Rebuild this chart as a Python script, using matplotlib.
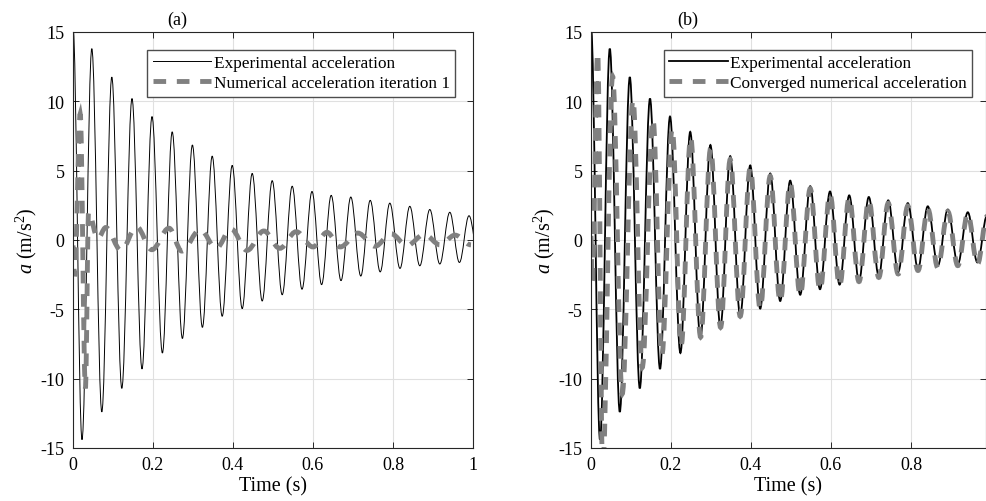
import matplotlib
matplotlib.use("Agg")
import matplotlib.pyplot as plt
from matplotlib.path import Path
from matplotlib.patches import PathPatch
from matplotlib.lines import Line2D
from matplotlib.ticker import FormatStrFormatter

plt.rcParams['font.family'] = 'Liberation Serif'
plt.rcParams['mathtext.fontset'] = 'custom'
plt.rcParams['mathtext.rm'] = 'Liberation Serif'
plt.rcParams['mathtext.it'] = 'Liberation Serif:italic'
plt.rcParams['axes.unicode_minus'] = False

# Peaks and troughs (time in s, acceleration in m/s^2)
exp_t = [0.0, 0.0225, 0.047, 0.072, 0.097, 0.122, 0.1475, 0.1725, 0.1975, 0.2235,
         0.248, 0.2735, 0.2985, 0.3235, 0.348, 0.373, 0.398, 0.423, 0.448, 0.473,
         0.498, 0.523, 0.548, 0.5725, 0.5975, 0.6215, 0.6455, 0.67, 0.6945, 0.7195,
         0.743, 0.768, 0.792, 0.8175, 0.842, 0.867, 0.892, 0.917, 0.942, 0.966,
         0.99, 1.015]
exp_a = [15.4, -14.4, 13.8, -12.4, 11.75, -10.7, 10.2, -9.3, 8.9, -8.15,
         7.8, -7.1, 6.85, -6.3, 6.05, -5.5, 5.38, -4.95, 4.8, -4.4,
         4.28, -3.95, 3.88, -3.55, 3.5, -3.22, 3.22, -2.93, 3.1, -2.6,
         2.86, -2.3, 2.66, -2.05, 2.43, -1.86, 2.2, -1.73, 2.0, -1.62,
         1.75, -1.5]

it1_t = [0.0, 0.004, 0.018, 0.031, 0.039, 0.062, 0.082, 0.12, 0.159, 0.197,
         0.24, 0.272, 0.318, 0.358, 0.395, 0.435, 0.477, 0.517, 0.558, 0.6,
         0.635, 0.668, 0.712, 0.755, 0.795, 0.835, 0.878, 0.918, 0.955, 0.995]
it1_a = [-0.4, -2.6, 9.1, -10.7, 2.0, 0.1, 0.9, -0.75, 0.95, -0.7,
         0.85, -0.8, 0.75, -0.6, 0.8, -0.75, 0.65, -0.6, 0.6, -0.5,
         0.55, -0.5, 0.5, -0.45, 0.45, -0.4, 0.4, -0.35, 0.35, -0.35]

conv_t = [0.0, 0.003, 0.0167, 0.029, 0.054, 0.078, 0.105, 0.128, 0.155, 0.177,
          0.203, 0.2255, 0.249, 0.274, 0.299, 0.324, 0.348, 0.373, 0.398, 0.423,
          0.448, 0.473, 0.498, 0.523, 0.548, 0.5725, 0.5975, 0.6215, 0.6455, 0.67,
          0.6945, 0.7195, 0.743, 0.768, 0.792, 0.8175, 0.842, 0.867, 0.892, 0.917,
          0.942, 0.966, 0.99]
conv_a = [0.3, -3.0, 13.5, -16.5, 11.8, -11.1, 10.1, -9.2, 8.7, -8.3,
          8.0, -7.6, 7.4, -7.0, 6.6, -6.3, 5.8, -5.5, 5.2, -4.95,
          4.6, -4.45, 4.1, -4.0, 3.7, -3.6, 3.3, -3.3, 3.05, -3.0,
          2.85, -2.7, 2.65, -2.45, 2.45, -2.2, 2.25, -2.0, 2.05, -1.85,
          1.9, -1.75, 1.7]

x_ticks_a = [0, 0.2, 0.4, 0.6, 0.8, 1]
x_ticks_b = [0, 0.2, 0.4, 0.6, 0.8]
y_ticks = [-15, -10, -5, 0, 5, 10, 15]

GRAY = '#808080'
K = 0.3634  # bezier handle fraction so each half wave looks like a cosine


def wave_path(t, a):
    # smooth curve through the extrema, drawn by matplotlib as cubic beziers
    verts = [(t[0], a[0])]
    codes = [Path.MOVETO]
    for i in range(1, len(t)):
        dt = t[i] - t[i - 1]
        verts += [(t[i - 1] + K * dt, a[i - 1]), (t[i] - K * dt, a[i]), (t[i], a[i])]
        codes += [Path.CURVE4] * 3
    return Path(verts, codes)


def style_axes(ax, xlim, xticks):
    ax.set_xlim(*xlim)
    ax.set_ylim(-15, 15)
    ax.set_xticks(xticks)
    ax.set_yticks(y_ticks)
    ax.xaxis.set_major_formatter(FormatStrFormatter('%g'))
    ax.yaxis.set_major_formatter(FormatStrFormatter('%g'))
    ax.grid(True, color='0.88', lw=0.8)
    ax.set_axisbelow(True)
    ax.tick_params(direction='in', length=4, width=0.7, top=True, right=True,
                   labelsize=13, pad=6, colors='0.15', labelcolor='k')
    for s in ax.spines.values():
        s.set_color('0.15')
        s.set_linewidth(0.8)
    ax.set_xlabel('Time (s)', fontsize=14.5, labelpad=2)
    ax.set_ylabel(r'$a$ (m/s$^2$)', fontsize=14.5, labelpad=1)


def add_legend(ax, handles, labels, right):
    ax.legend(handles, labels, loc='upper right', bbox_to_anchor=(right, 0.957),
              fontsize=12.4, fancybox=False, framealpha=1, edgecolor='0.3',
              borderpad=0.3, labelspacing=0.25, handlelength=3.4,
              handletextpad=0.15, borderaxespad=0)


fig = plt.figure(figsize=(9.87, 5.02), dpi=100)
ax1 = fig.add_axes([73 / 987, 53 / 502, 400 / 987, 416 / 502])
ax2 = fig.add_axes([591 / 987, 53 / 502, 395 / 987, 416 / 502])

dash = (2.6, 2.2)

# (a)
ax1.add_patch(PathPatch(wave_path(exp_t, exp_a), fill=False, ec='k', lw=0.7))
ax1.add_patch(PathPatch(wave_path(it1_t, it1_a), fill=False, ec=GRAY, lw=3.5,
                        linestyle=(0, dash)))
style_axes(ax1, (0, 1), x_ticks_a)
ax1.text(0.26, 1.031, '(a)', transform=ax1.transAxes, ha='center', va='center', fontsize=13)
add_legend(ax1,
           [Line2D([], [], color='k', lw=0.7),
            Line2D([], [], color=GRAY, lw=3.5, dashes=dash)],
           ['Experimental acceleration', 'Numerical acceleration iteration 1'], 0.955)

# (b)
ax2.add_patch(PathPatch(wave_path(exp_t, exp_a), fill=False, ec='k', lw=1.3))
ax2.add_patch(PathPatch(wave_path(conv_t, conv_a), fill=False, ec=GRAY, lw=3.5,
                        linestyle=(0, dash)))
style_axes(ax2, (0, 0.9875), x_ticks_b)
ax2.text(0.245, 1.031, '(b)', transform=ax2.transAxes, ha='center', va='center', fontsize=13)
add_legend(ax2,
           [Line2D([], [], color='k', lw=1.3),
            Line2D([], [], color=GRAY, lw=3.5, dashes=dash)],
           ['Experimental acceleration', 'Converged numerical acceleration'], 0.965)

fig.savefig('out.png', dpi=100)
